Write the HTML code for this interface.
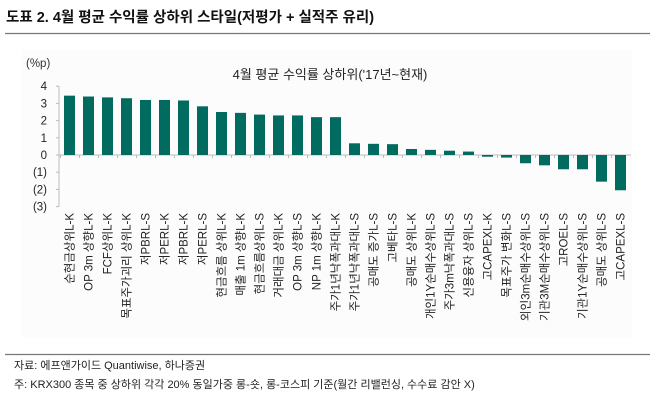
<!DOCTYPE html>
<html><head><meta charset="utf-8"><style>
body{margin:0;background:#fff;font-family:"Liberation Sans","Noto Sans CJK KR",sans-serif;}
svg text{font-family:"Liberation Sans","Noto Sans CJK KR",sans-serif;}
</style></head><body>
<svg id="chart" width="658" height="404" viewBox="0 0 658 404">
<text x="6" y="22" font-size="14.5" font-weight="bold" fill="#111">도표 2. 4월 평균 수익률 상하위 스타일(저평가 + 실적주 유리)</text>
<line x1="5" y1="33.5" x2="650" y2="33.5" stroke="#777" stroke-width="1.2"/>
<rect x="22" y="50" width="610" height="288" fill="#fcfcfc"/>
<text x="330" y="79" font-size="13" text-anchor="middle" fill="#222">4월 평균 수익률 상하위('17년~현재)</text>
<text x="26" y="67" font-size="11.5" fill="#333">(%p)</text>
<g id="axes"></g>
<g id="bars"></g>
<g id="labels"></g>
<line x1="5" y1="354.5" x2="650" y2="354.5" stroke="#777" stroke-width="1.2"/>
<text x="14" y="369" font-size="11" fill="#222">자료: 에프앤가이드 Quantiwise, 하나증권</text>
<text x="14" y="388" font-size="11" fill="#222">주: KRX300 종목 중 상하위 각각 20% 동일가중 롱-숏, 롱-코스피 기준(월간 리밸런싱, 수수료 감안 X)</text>
</svg>
<script>
const categories=["순현금상위L-K","OP 3m 상향L-K","FCF상위L-K","목표주가괴리 상위L-K","저PBRL-S","저PERL-K","저PBRL-K","저PERL-S","현금흐름 상위L-K","매출 1m 상향L-K","현금흐름상위L-S","거래대금 상위L-K","OP 3m 상향L-S","NP 1m 상향L-K","주가1년낙폭과대L-K","주가1년낙폭과대L-S","공매도 증가L-S","고베타L-S","공매도 상위L-K","개인1Y순매수상위L-S","주가3m낙폭과대L-S","신용융자 상위L-S","고CAPEXL-K","목표주가 변화L-S","외인3m순매수상위L-S","기관3M순매수상위L-S","고ROEL-S","기관1Y순매수상위L-S","공매도 상위L-S","고CAPEXL-S"];
const values=[3.45,3.4,3.35,3.3,3.2,3.2,3.17,2.83,2.5,2.45,2.35,2.3,2.3,2.2,2.2,0.68,0.65,0.63,0.35,0.3,0.25,0.2,-0.1,-0.15,-0.48,-0.6,-0.83,-0.83,-1.55,-2.05];
const yTicks=[4,3,2,1,0,-1,-2,-3];
const yTickLabels=["4","3","2","1","0","(1)","(2)","(3)"];
const NS="http://www.w3.org/2000/svg";
const x0=59,bw=11,firstX=64,lastX=615;
const yScale=v=>155-v*17.2;
const xScale=i=>firstX+i*(lastX-firstX)/(categories.length-1);
function mk(t,a,p){const e=document.createElementNS(NS,t);for(const k in a)e.setAttribute(k,a[k]);p.appendChild(e);return e;}
const ax=document.getElementById('axes'),bg=document.getElementById('bars'),lg=document.getElementById('labels');
const xEnd=xScale(categories.length-1)+bw+5;
const yl=mk('line',{x1:x0,y1:yScale(4),x2:x0,y2:yScale(-3),stroke:'#bbb'},ax);


yTicks.forEach((t,i)=>{
 const y=yScale(t);
 mk('line',{x1:x0-3,y1:y,x2:x0,y2:y,stroke:'#bbb'},ax);
 const tx=mk('text',{x:x0-12,y:y+4,'font-size':11.5,'text-anchor':'end',fill:'#222'},ax);
 tx.textContent=yTickLabels[i];
 
 
});
const zl=mk('line',{x1:x0,y1:yScale(0),x2:xEnd,y2:yScale(0),stroke:'#bbb'},ax);


categories.forEach((c,i)=>{
 const x=xScale(i),v=values[i];
 mk('line',{x1:x-3.5,y1:yScale(0),x2:x-3.5,y2:yScale(0)+3,stroke:'#bbb'},ax);
 const r=mk('rect',{x:x,y:Math.min(yScale(v),yScale(0)),width:bw,height:Math.abs(yScale(v)-yScale(0)),fill:'#006b5e'},bg);
 
 
 const cx=x+bw/2+4;
 const t=mk('text',{x:cx,y:213,'font-size':11.5,'text-anchor':'end',fill:'#222',transform:`rotate(-90 ${cx} 213)`},lg);
 t.textContent=c;
 
 
});
</script>
</body></html>
